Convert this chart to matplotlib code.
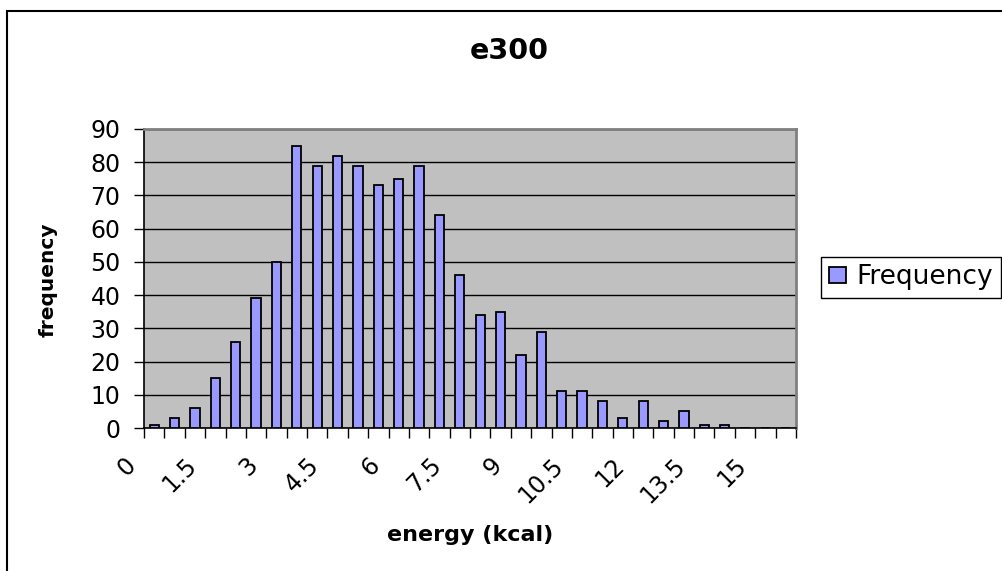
import matplotlib
matplotlib.use("Agg")
import matplotlib.pyplot as plt
from matplotlib.patches import Rectangle
from matplotlib.transforms import ScaledTranslation
import numpy as np

# データ
energy = np.arange(0, 16, 0.5)
freq = [1, 3, 6, 15, 26, 39, 50, 85, 79, 82, 79, 73, 75, 79, 64,
        46, 34, 35, 22, 29, 11, 11, 8, 3, 8, 2, 5, 1, 1, 0, 0, 0]
label_values = [0, 1.5, 3, 4.5, 6, 7.5, 9, 10.5, 12, 13.5, 15]
yticks = list(range(0, 91, 10))

plt.rcParams["font.family"] = ["DejaVu Sans"]

W, H = 1003, 571
fig = plt.figure(figsize=(W / 100, H / 100), dpi=100)
ax = fig.add_axes([144 / W, 1 - 428 / H, (796 - 144) / W, (428 - 129) / H])
ax.set_facecolor("#C0C0C0")

idx = np.arange(len(energy))
ax.bar(idx, freq, width=0.45, color="#9999FF", edgecolor="black",
       linewidth=1.3, label="Frequency", zorder=3)

ax.set_yticks(yticks)
ax.yaxis.grid(True, color="black", lw=1)
ax.set_axisbelow(True)
ax.tick_params(axis="y", direction="out", length=7, width=1, pad=10, labelsize=17)

pos = [list(energy).index(v) for v in label_values]
ax.set_xticks(pos)
ax.set_xticklabels([f"{v:g}" for v in label_values], rotation=45,
                   ha="right", va="top", rotation_mode="anchor", fontsize=17)
ax.tick_params(axis="x", which="major", length=0, pad=18)
ax.set_xticks(np.arange(-0.5, len(energy)), minor=True)
ax.tick_params(axis="x", which="minor", direction="out", length=7, width=1)
# ラベルを左へずらす
shift = ScaledTranslation(-0.31, 0, fig.dpi_scale_trans)
for t in ax.get_xticklabels():
    t.set_transform(t.get_transform() + shift)

ax.set_xlim(-0.5, len(energy) - 0.5)
ax.set_ylim(0, 90)

for s in ["left", "bottom"]:
    ax.spines[s].set_color("black")
    ax.spines[s].set_linewidth(1.2)
for s in ["top", "right"]:
    ax.spines[s].set_color("#808080")
    ax.spines[s].set_linewidth(2)

fig.text(509 / W, 1 - 51 / H, "e300", ha="center", va="center",
         fontsize=20.5, fontweight="bold")
fig.text(470 / W, 1 - 535 / H, "energy (kcal)", ha="center", va="center",
         fontsize=16, fontweight="bold")
fig.text(48 / W, 1 - 280 / H, "frequency", ha="center", va="center",
         rotation=90, fontsize=14.5, fontweight="bold")

# 凡例
h, l = ax.get_legend_handles_labels()
leg = fig.legend(h, l, loc="center left", bbox_to_anchor=(821 / W, 1 - 277.5 / H),
                 fontsize=19, frameon=True, fancybox=False, edgecolor="black",
                 framealpha=1, handlelength=0.65, handleheight=0.55,
                 handletextpad=0.4, borderpad=0.3, borderaxespad=0)
leg.get_frame().set_linewidth(1)
for p in leg.get_patches():
    p.set_linewidth(1.3)

# 外枠
fig.patches.append(Rectangle((7 / W, -0.2), 1.2, 0.2 + 1 - 11 / H,
                             transform=fig.transFigure, fill=False,
                             edgecolor="black", lw=1.5))

fig.savefig("out.png", dpi=100)
